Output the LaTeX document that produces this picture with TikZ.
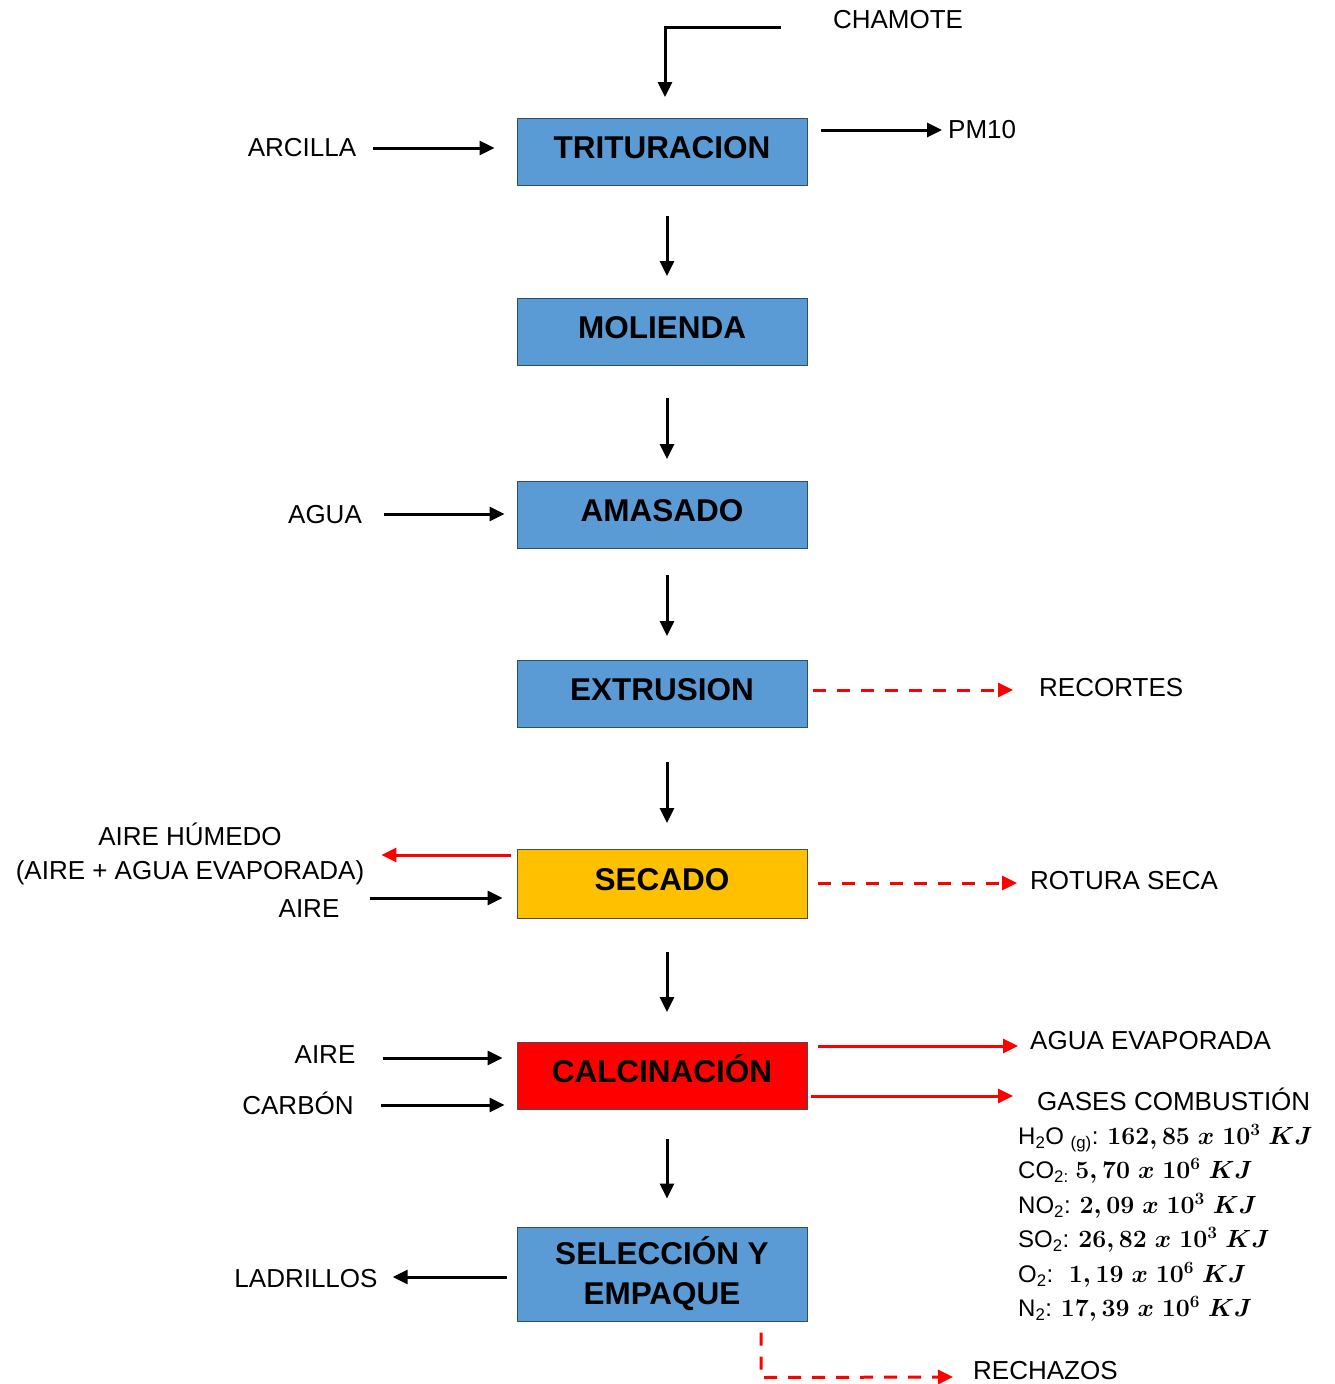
\documentclass[tikz,border=0pt]{standalone}
\usepackage{fontspec}
\setmainfont{Liberation Sans}
\usetikzlibrary{arrows.meta}

\definecolor{boxblue}{HTML}{5B9BD5}
\definecolor{boxedge}{HTML}{2F4F6F}
\definecolor{boxyellow}{HTML}{FFC000}

\begin{document}
\begin{tikzpicture}[x=1pt,y=-1pt,
  procbase/.style={draw=boxedge, line width=1pt, fill=boxblue, minimum width=290pt,
    minimum height=67pt, align=center, inner sep=0pt,
    font=\fontsize{31.5}{40}\selectfont\bfseries},
  proc/.style={procbase, text height=23pt, text depth=10pt},
  lbl/.style={inner sep=0pt, font=\fontsize{26}{34}\selectfont},
  arr/.style={line width=3pt, -{Triangle[length=15pt,width=14pt]}},
  redarr/.style={arr, red},
  reddash/.style={arr, red, dash pattern=on 13pt off 11pt}]
\useasboundingbox (0,0) rectangle (1334,1384);
% Process boxes
\node[proc] (tri) at (662,152) {TRITURACION};
\node[proc] (mol) at (662,332) {MOLIENDA};
\node[proc] (ama) at (662,515) {AMASADO};
\node[proc] (ext) at (662,694) {EXTRUSION};
\node[proc, fill=boxyellow, draw=black!70, minimum height=69pt] (sec) at (662,884) {SECADO};
\node[proc, fill=red, draw=black!70] (cal) at (662,1076) {CALCINACIÓN};
\node[procbase, minimum height=94pt] (sel) at (662,1274) {SELECCIÓN Y\\EMPAQUE};
% Main flow
\draw[arr] ([xshift=5,yshift=-30]tri.south) -- ([xshift=5,yshift=22]mol.north);
\draw[arr] ([xshift=5,yshift=-32]mol.south) -- ([xshift=5,yshift=22]ama.north);
\draw[arr] ([xshift=5,yshift=-26]ama.south) -- ([xshift=5,yshift=24]ext.north);
\draw[arr] ([xshift=5,yshift=-34]ext.south) -- ([xshift=5,yshift=26]sec.north);
\draw[arr] ([xshift=5,yshift=-33]sec.south) -- ([xshift=5,yshift=30]cal.north);
\draw[arr] ([xshift=5,yshift=-29]cal.south) -- ([xshift=5,yshift=28]sel.north);
% Trituracion
\node[lbl] (cham) at (898,20) {CHAMOTE};
\coordinate (chamin) at (781,27);
\draw[arr] (chamin) -- (665,27) -- ([xshift=3,yshift=21]tri.north);
\node[lbl] (arc) at (302,148) {ARCILLA};
\draw[arr] ([xshift=17]arc.east) -- ([xshift=-22,yshift=4]tri.west);
\node[lbl, anchor=west] (pm) at (948,130) {PM10};
\draw[arr] ([xshift=13,yshift=22]tri.east) -- ([xshift=-6]pm.west);
% Amasado
\node[lbl] (agua) at (325,515) {AGUA};
\draw[arr] ([xshift=22,yshift=1]agua.east) -- ([xshift=-12,yshift=1]ama.west);
% Extrusion
\node[lbl, anchor=west] (rec) at (1039,688) {RECORTES};
\draw[reddash] ([xshift=5,yshift=4]ext.east) -- ([xshift=-26,yshift=-2]rec.west);
% Secado
\node[lbl, align=center] (hum) at (190,854) {AIRE HÚMEDO\\(AIRE + AGUA EVAPORADA)};
\node[lbl] (aire1) at (309,909) {AIRE};
\draw[redarr] ([xshift=-6,yshift=29]sec.west) -- ([xshift=17,yshift=-1]hum.east);
\draw[arr] ([xshift=30,yshift=11]aire1.east) -- ([xshift=-14,yshift=-14]sec.west);
\node[lbl, anchor=west] (rot) at (1030,881) {ROTURA SECA};
\draw[reddash] ([xshift=10,yshift=1]sec.east) -- ([xshift=-13,yshift=-2]rot.west);
% Calcinacion
\node[lbl] (aire2) at (325,1055) {AIRE};
\draw[arr] ([xshift=27,yshift=-3]aire2.east) -- ([xshift=-14,yshift=18]cal.west);
\node[lbl] (carb) at (298,1103) {CARBÓN};
\draw[arr] ([xshift=27,yshift=-2]carb.east) -- ([xshift=-12,yshift=-29]cal.west);
\node[lbl, anchor=west] (evap) at (1030,1041) {AGUA EVAPORADA};
\draw[redarr] ([xshift=10,yshift=30]cal.east) -- ([xshift=-12,yshift=-5]evap.west);
\node[lbl, anchor=west] (gas) at (1037,1099) {GASES COMBUSTIÓN};
\draw[redarr] ([xshift=3,yshift=-20]cal.east) -- ([xshift=-24,yshift=3]gas.west);
\node[lbl, anchor=north west, align=left, font=\fontsize{24}{34.5}\selectfont] (comp) at (1018,1124)
  {H\textsubscript{2}O \textsubscript{(g)}: {\boldmath$162,85\;x\;10^{3}\;KJ$}\\
   CO\textsubscript{2:} {\boldmath$5,70\;x\;10^{6}\;KJ$}\\
   NO\textsubscript{2}: {\boldmath$2,09\;x\;10^{3}\;KJ$}\\
   SO\textsubscript{2}: {\boldmath$26,82\;x\;10^{3}\;KJ$}\\
   O\textsubscript{2}:~ {\boldmath$1,19\;x\;10^{6}\;KJ$}\\
   N\textsubscript{2}: {\boldmath$17,39\;x\;10^{6}\;KJ$}};
% Seleccion
\node[lbl] (lad) at (306,1279) {LADRILLOS};
\draw[arr] ([xshift=-10,yshift=-3]sel.west) -- ([xshift=15,yshift=2]lad.east);
\node[lbl, anchor=west] (rech) at (973,1371) {RECHAZOS};
\draw[reddash] ([xshift=99,yshift=-11]sel.south) -- ([xshift=99,yshift=-56]sel.south) -- ([xshift=-20,yshift=-6]rech.west);
\end{tikzpicture}
\end{document}
